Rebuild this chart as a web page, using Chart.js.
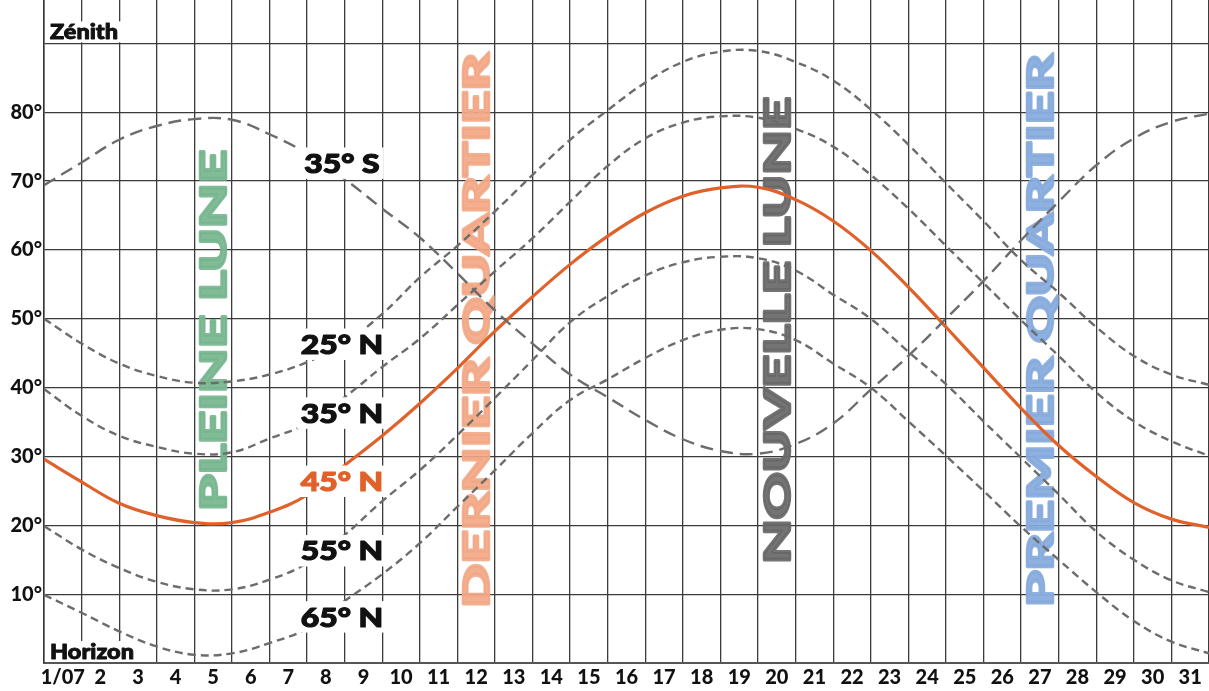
<!DOCTYPE html>
<html lang="fr">
<head>
<meta charset="utf-8">
<title>Hauteur de la Lune - juillet</title>
<script src="https://cdn.jsdelivr.net/npm/chart.js@4.4.1/dist/chart.umd.min.js"></script>
<style>
  html, body { margin: 0; padding: 0; background: #ffffff; }
  #wrap { width: 1209px; height: 691px; position: relative; }
</style>
</head>
<body>
<div id="wrap"><canvas id="moon-altitude-chart"></canvas></div>
<script>
// jours du mois (etiquettes de l'axe)
var dayLabels = ['1/07', '2', '3', '4', '5', '6', '7', '8', '9', '10', '11', '12', '13', '14', '15', '16',
                 '17', '18', '19', '20', '21', '22', '23', '24', '25', '26', '27', '28', '29', '30', '31'];

// limites des jours (minuit), ou les hauteurs ont ete relevees
var dayBounds = [0.5, 1.5, 2.5, 3.5, 4.5, 5.5, 6.5, 7.5, 8.5, 9.5, 10.5, 11.5, 12.5, 13.5, 14.5, 15.5,
                 16.5, 17.5, 18.5, 19.5, 20.5, 21.5, 22.5, 23.5, 24.5, 25.5, 26.5, 27.5, 28.5, 29.5, 30.5, 31.5];

// hauteur de la Lune au meridien (degres) selon la latitude
var alt35S = [69.4, 72.7, 76.0, 78.0, 79.0, 78.9, 76.8, 74.0, 70.3, 66.0, 61.8, 56.6, 51.2, 46.4, 41.9, 38.6,
              35.3, 32.5, 30.8, 30.4, 31.8, 34.8, 39.7, 44.6, 50.0, 55.5, 61.4, 67.0, 72.3, 76.2, 78.6, 79.8];
var alt25N = [50.0, 46.4, 43.5, 41.7, 40.7, 40.9, 41.9, 43.7, 46.5, 50.7, 56.0, 60.6, 65.6, 70.9, 76.0, 80.3,
              84.3, 87.3, 88.8, 88.9, 87.3, 84.6, 80.4, 75.3, 69.7, 64.2, 58.5, 53.8, 48.8, 44.6, 41.9, 40.4];
var alt35N = [39.8, 35.9, 33.0, 31.4, 30.4, 30.6, 32.6, 34.8, 38.6, 43.0, 47.1, 52.0, 56.9, 61.7, 67.0, 72.2,
              76.2, 78.5, 79.4, 79.2, 77.6, 75.0, 70.9, 66.0, 60.6, 55.2, 49.8, 44.6, 39.3, 35.1, 32.2, 30.1];
var alt45N = [29.6, 26.3, 23.2, 21.4, 20.4, 20.4, 21.9, 24.4, 28.7, 33.0, 37.7, 42.8, 48.2, 53.2, 57.9, 62.0,
              65.4, 67.8, 69.0, 69.1, 67.3, 64.2, 59.9, 54.6, 48.8, 42.9, 37.0, 31.6, 27.1, 23.3, 20.9, 19.7];
var alt55N = [19.9, 16.5, 13.8, 11.8, 10.7, 10.7, 12.1, 14.5, 18.6, 23.5, 28.0, 33.1, 38.5, 44.0, 49.5, 53.3,
              56.3, 58.2, 59.0, 58.8, 57.0, 53.5, 50.0, 45.2, 40.5, 35.1, 29.8, 24.5, 19.1, 15.0, 12.0, 10.3];
var alt65N = [9.9, 7.3, 4.6, 2.4, 1.2, 1.4, 2.9, 5.0, 9.0, 12.9, 17.4, 22.7, 28.0, 33.4, 38.2, 41.2,
              44.3, 46.9, 48.4, 48.5, 46.9, 43.5, 40.0, 35.1, 30.1, 25.0, 19.8, 15.0, 10.3, 6.1, 3.1, 1.4];

// phases de la Lune
var phaseNames = ['PLEINE LUNE', 'DERNIER QUARTIER', 'NOUVELLE LUNE', 'PREMIER QUARTIER'];
var phaseDays = [5, 12, 20, 27];

// noms des courbes
var latNames = ['35° S', '25° N', '35° N', '45° N', '55° N', '65° N'];

var FONT = 'Lato, "DejaVu Sans", sans-serif';
var GRID = '#3b3b3b';
var DASH_GREY = '#6c6c6c';
var ORANGE = '#e1612b';

// placement des textes (jour, hauteur) et styles
var phaseStyle = [
    { color: 'rgba(118, 182, 142, 0.92)', length: 366 },
    { color: 'rgba(242, 166, 132, 0.9)', length: 560 },
    { color: 'rgba(104, 104, 104, 0.92)', length: 472 },
    { color: 'rgba(134, 170, 220, 0.92)', length: 558 }
];
var phaseCenterAlt = 48.3;
var latLabelDay = 8.43;
var latLabelAlt = [72.6, 46.3, 36.3, 26.4, 16.3, 6.7];

function toPoints(values) {
    return values.map(function (v, i) {
        return { x: dayBounds[i], y: v };
    });
}

function dashed(label, values, dash) {
    return {
        label: label,
        data: toPoints(values),
        borderColor: DASH_GREY,
        borderWidth: 2.4,
        borderDash: dash,
        pointRadius: 0,
        fill: false,
        tension: 0.4
    };
}

// texte epais : remplissage + contour de la meme couleur
function heavyText(ctx, text, x, y, color, weight) {
    ctx.fillStyle = color;
    ctx.strokeStyle = color;
    ctx.lineWidth = weight;
    ctx.lineJoin = 'round';
    ctx.strokeText(text, x, y);
    ctx.fillText(text, x, y);
}

// textes verticaux des phases, sous les courbes
var phasePlugin = {
    id: 'phases',
    beforeDatasetsDraw: function (chart) {
        var ctx = chart.ctx;
        var xs = chart.scales.x, ys = chart.scales.y;
        var size = 36;
        ctx.save();
        ctx.font = '900 ' + size + 'px ' + FONT;
        ctx.textAlign = 'center';
        ctx.textBaseline = 'alphabetic';
        phaseNames.forEach(function (name, i) {
            var cx = xs.getPixelForValue(phaseDays[i]);
            var cy = ys.getPixelForValue(phaseCenterAlt);
            var w = ctx.measureText(name).width + 3;
            ctx.save();
            ctx.translate(cx, cy);
            ctx.rotate(-Math.PI / 2);
            ctx.scale(phaseStyle[i].length / w, 1);
            heavyText(ctx, name, 0, size * 0.36, phaseStyle[i].color, 2.5);
            ctx.restore();
        });
        ctx.restore();
    }
};

// etiquettes de latitude, Zenith et Horizon sur fond blanc
var labelPlugin = {
    id: 'latLabels',
    afterDatasetsDraw: function (chart) {
        var ctx = chart.ctx;
        var xs = chart.scales.x, ys = chart.scales.y;
        var area = chart.chartArea;
        ctx.save();

        var size = 27;
        ctx.font = '900 ' + size + 'px ' + FONT;
        ctx.textBaseline = 'alphabetic';
        ctx.textAlign = 'left';
        latNames.forEach(function (name, i) {
            var cx = xs.getPixelForValue(latLabelDay);
            var cy = ys.getPixelForValue(latLabelAlt[i]);
            var w = ctx.measureText(name).width * 1.18;
            var cap = size * 0.72;
            ctx.fillStyle = '#ffffff';
            ctx.fillRect(cx - w / 2 - 4, cy - cap / 2 - 6, w + 8, cap + 12);
            ctx.save();
            ctx.translate(cx - w / 2, cy + cap / 2);
            ctx.scale(1.18, 1);
            heavyText(ctx, name, 0, 0, name === '45° N' ? ORANGE : '#111111', 1.2);
            ctx.restore();
        });

        // Zenith (90 degres) et Horizon (0 degre)
        ctx.font = '900 21px ' + FONT;
        [['Zénith', ys.getPixelForValue(90) - 4], ['Horizon', area.bottom - 4]].forEach(function (t) {
            var w = ctx.measureText(t[0]).width * 1.12;
            ctx.fillStyle = '#ffffff';
            ctx.fillRect(area.left + 4, t[1] - 18, w + 6, 21);
            ctx.save();
            ctx.translate(area.left + 6, t[1]);
            ctx.scale(1.12, 1);
            heavyText(ctx, t[0], 0, 0, '#111111', 0.9);
            ctx.restore();
        });
        ctx.restore();
    }
};

var canvas = document.getElementById('moon-altitude-chart');

new Chart(canvas, {
    type: 'line',
    data: {
        datasets: [
            dashed('35° S', alt35S, [13, 7]),
            dashed('25° N', alt25N, [8, 5]),
            dashed('35° N', alt35N, [8, 5]),
            dashed('55° N', alt55N, [8, 5]),
            dashed('65° N', alt65N, [8, 5]),
            {
                label: '45° N',
                data: toPoints(alt45N),
                borderColor: ORANGE,
                borderWidth: 3.2,
                pointRadius: 0,
                fill: false,
                tension: 0.4
            }
        ]
    },
    options: {
        responsive: true,
        maintainAspectRatio: false,
        animation: false,
        layout: { padding: 0 },
        plugins: {
            legend: { display: false },
            tooltip: { enabled: false }
        },
        scales: {
            x: {
                type: 'linear',
                min: 0.5,
                max: 31.5,
                afterBuildTicks: function (scale) {
                    scale.ticks = dayLabels.map(function (l, i) { return { value: i + 1 }; });
                },
                afterFit: function (scale) {
                    scale.height = 28;
                    scale.paddingLeft = 0;
                    scale.paddingRight = 0;
                },
                grid: { offset: true, color: GRID, lineWidth: 1.3, drawTicks: false },
                border: { color: '#555555', width: 2 },
                ticks: {
                    autoSkip: false,
                    maxRotation: 0,
                    padding: 3,
                    color: '#111111',
                    font: { family: FONT, size: 20, weight: '900' },
                    callback: function (value, index) { return dayLabels[index]; }
                }
            },
            y: {
                min: 0,
                max: 96.3,
                afterFit: function (scale) {
                    scale.width = 44;
                    scale.paddingTop = 0;
                    scale.paddingBottom = 0;
                },
                grid: { color: GRID, lineWidth: 1.3, drawTicks: false },
                border: { color: '#333333', width: 1.5 },
                ticks: {
                    stepSize: 10,
                    includeBounds: false,
                    padding: 2,
                    color: '#111111',
                    font: { family: FONT, size: 20, weight: '900' },
                    callback: function (value) {
                        return (value > 0 && value < 90) ? value + '°' : '';
                    }
                }
            }
        }
    },
    plugins: [phasePlugin, labelPlugin]
});
</script>
</body>
</html>
